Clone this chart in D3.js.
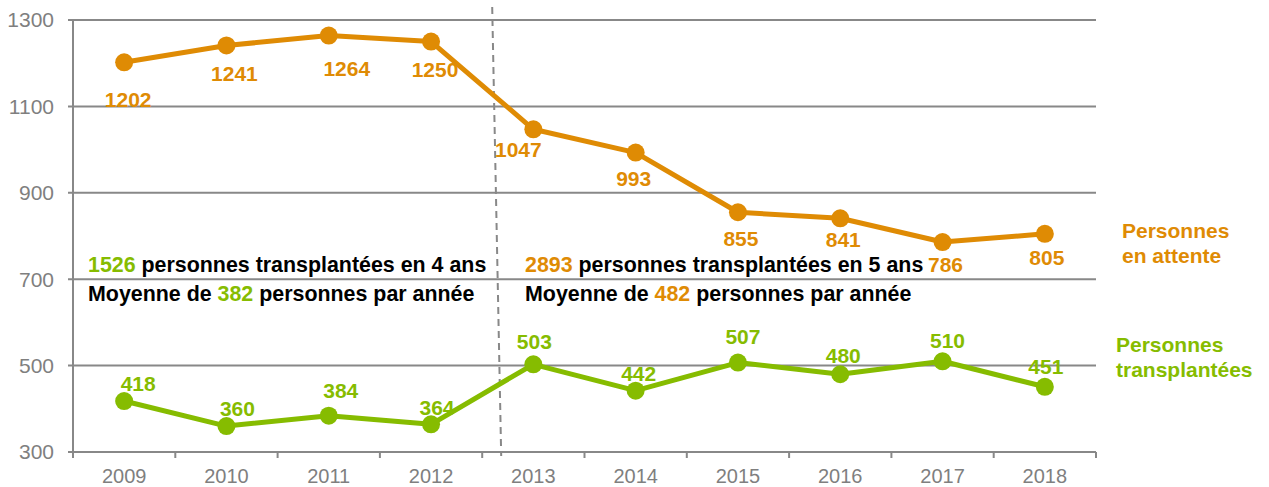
<!DOCTYPE html>
<html lang="fr">
<head>
<meta charset="utf-8">
<title>Transplantations</title>
<script src="https://cdn.jsdelivr.net/npm/d3@7"></script>
<style>
  body { margin: 0; background: #fff; }
  svg { font-family: "Liberation Sans", Arial, sans-serif; }
</style>
</head>
<body>
<svg width="1269" height="487"></svg>
<script>
// donnees
const annees = ["2009", "2010", "2011", "2012", "2013", "2014", "2015", "2016", "2017", "2018"];
const enAttente = [1202, 1241, 1264, 1250, 1047, 993, 855, 841, 786, 805];
const transplantees = [418, 360, 384, 364, 503, 442, 507, 480, 510, 451];
const yTicks = [300, 500, 700, 900, 1100, 1300];

// decalage des etiquettes (mise en page, pas des donnees)
const decalAttente = [[4, 45], [8, 36], [18, 40], [4, 35], [-15, 28], [-2, 33], [3, 34], [3, 29], [3, 30], [2, 31]];
const decalTransp = [[14, -10], [11, -10], [12, -18], [6, -9], [1, -15], [3, -10], [5, -19], [3, -11], [5, -13], [1, -13]];

const orange = "#df8b04";
const vert = "#86bc00";
const gris = "#888888";

const svg = d3.select("svg");

const x = d3.scaleBand().domain(annees).range([73, 1096]).padding(0);
const y = d3.scaleLinear().domain([300, 1300]).range([452, 20]);
const cx = d => x(d) + x.bandwidth() / 2;

// grille
svg.append("g").selectAll("line").data(yTicks).enter().append("line")
  .attr("x1", 68).attr("x2", 1096)
  .attr("y1", d => y(d)).attr("y2", d => y(d))
  .attr("stroke", gris).attr("stroke-width", 2);

svg.append("g").selectAll("text").data(yTicks).enter().append("text")
  .attr("x", 54).attr("y", d => y(d)).attr("dy", "0.35em")
  .attr("text-anchor", "end").attr("fill", "#7f7f7f")
  .style("font-size", "21px").text(d => d);

// axe y
svg.append("line").attr("x1", 73).attr("x2", 73)
  .attr("y1", y(1300)).attr("y2", y(300))
  .attr("stroke", gris).attr("stroke-width", 2);

// axe x
const xAxis = svg.append("g").attr("transform", `translate(0,${y(300)})`);
xAxis.selectAll("line").data(annees.concat(["fin"])).enter().append("line")
  .attr("x1", (d, i) => x.range()[0] + i * x.step())
  .attr("x2", (d, i) => x.range()[0] + i * x.step())
  .attr("y1", 0).attr("y2", 6)
  .attr("stroke", gris).attr("stroke-width", 2);
xAxis.selectAll("text").data(annees).enter().append("text")
  .attr("x", d => cx(d)).attr("y", 31)
  .attr("text-anchor", "middle").attr("fill", "#7f7f7f")
  .style("font-size", "20px").text(d => d);

// separateur
const xSep = x("2013");
svg.append("line")
  .attr("x1", xSep + 10).attr("y1", 7)
  .attr("x2", xSep + 19).attr("y2", 456)
  .attr("stroke", gris).attr("stroke-width", 2)
  .attr("stroke-dasharray", "7,5");

// series
function serie(valeurs, couleur, decal) {
  const g = svg.append("g");
  const ligne = d3.line().x((d, i) => cx(annees[i])).y(d => y(d));
  g.append("path").datum(valeurs).attr("d", ligne)
    .attr("fill", "none").attr("stroke", couleur).attr("stroke-width", 5)
    .attr("stroke-linejoin", "round");
  g.selectAll("circle").data(valeurs).enter().append("circle")
    .attr("cx", (d, i) => cx(annees[i])).attr("cy", d => y(d))
    .attr("r", 9).attr("fill", couleur);
  g.selectAll("text").data(valeurs).enter().append("text")
    .attr("x", (d, i) => cx(annees[i]) + decal[i][0])
    .attr("y", (d, i) => y(d) + decal[i][1])
    .attr("text-anchor", "middle").attr("fill", couleur)
    .style("font-size", "21px").style("font-weight", "bold")
    .text(d => d);
}
serie(enAttente, orange, decalAttente);
serie(transplantees, vert, decalTransp);

// annotations
function note(xx, yy, morceaux) {
  const t = svg.append("text").attr("x", xx).attr("y", yy)
    .style("font-size", "21.4px").style("font-weight", "bold");
  morceaux.forEach(m => t.append("tspan").attr("fill", m[1]).text(m[0]));
}
note(88, 272, [["1526", vert], [" personnes transplantées en 4 ans", "#000"]]);
note(88, 301, [["Moyenne de ", "#000"], ["382", vert], [" personnes par année", "#000"]]);
note(525, 272, [["2893", orange], [" personnes transplantées en 5 ans", "#000"]]);
note(525, 301, [["Moyenne de ", "#000"], ["482", orange], [" personnes par année", "#000"]]);

// legende
const legende = [
  { lignes: ["Personnes", "en attente"], couleur: orange, x: 1122, y: 238 },
  { lignes: ["Personnes", "transplantées"], couleur: vert, x: 1116, y: 352 }
];
legende.forEach(l => {
  svg.append("g").selectAll("text").data(l.lignes).enter().append("text")
    .attr("x", l.x).attr("y", (d, i) => l.y + i * 25)
    .attr("fill", l.couleur)
    .style("font-size", "21px").style("font-weight", "bold")
    .text(d => d);
});
</script>
</body>
</html>
